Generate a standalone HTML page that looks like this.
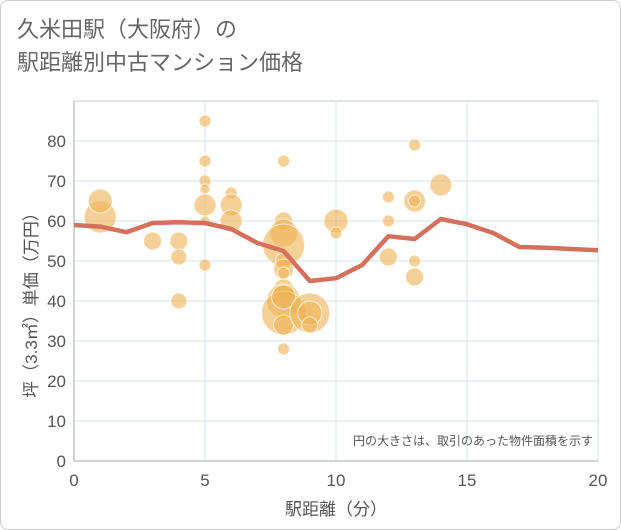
<!DOCTYPE html>
<html><head><meta charset="utf-8"><style>
body{margin:0;background:#fff;}
#wrap{position:relative;width:619px;height:528px;border:1px solid #ccc;border-radius:8px;overflow:hidden;font-family:"Liberation Sans","Noto Sans CJK JP",sans-serif;}
#title{position:absolute;left:16px;top:12px;font-size:22px;line-height:33px;color:#666;}
svg{position:absolute;left:0;top:0;}
</style></head><body>
<div id="wrap">
<div id="title">久米田駅（大阪府）の<br>駅距離別中古マンション価格</div>
<svg id="chart" width="621" height="530"></svg>
</div>
<script>
const xTicks=[0,5,10,15,20];
const yTicks=[0,10,20,30,40,50,60,70,80];
const bubbleX=[1,1,3,4,4,4,5,5,5,5,5,5,5,6,6,6,8,8,8,8,8,8,8,8,8,8,8,8,8,9,9,9,10,10,12,12,12,13,13,13,13,13,14];
const bubbleY=[61,65,55,55,51,40,85,75,70,68,64,60,49,67,64,60,75,60,57,54,50,48,47,43,40,37,34,28,41,37,37,34,60,57,66,60,51,79,65,65,50,46,69];
const bubbleR=[16,12,9,9,8,8,6,6,6,5,11,5,6,6,11,11,6,9,14,21,8,10,6,10,17,22,10,6,12,20,12,8,12,6,6,6,9,6,11,6,6,9,11];
const lineX=[0,1,2,3,4,5,6,7,8,9,10,11,12,13,14,15,16,17,18,19,20];
const lineY=[59,58.6,57.2,59.5,59.7,59.5,58,54.5,52.5,45,45.7,49,56.2,55.5,60.5,59.2,57,53.5,53.3,53,52.7];
const NS='http://www.w3.org/2000/svg';
const svg=document.getElementById('chart');
const X0=73,X1=597,Y0=460,Y1=140;
const sx=v=>X0+(X1-X0)*v/20;
const sy=v=>Y0-(Y0-Y1)*v/80;
function mk(t,a){const e=document.createElementNS(NS,t);for(const k in a)e.setAttribute(k,a[k]);svg.appendChild(e);return e;}
mk('rect',{x:X0,y:100,width:X1-X0,height:Y0-100,fill:'none',stroke:'#ccc'});
yTicks.forEach(v=>{
 const l=mk('line',{x1:X0,x2:X1,y1:sy(v),y2:sy(v),stroke:'#d3e1ee','stroke-width':1});
 
 
 const t=mk('text',{x:X0-8,y:sy(v)+6,'text-anchor':'end','font-size':17,fill:'#555'});
 t.textContent=v;
 
 
});
xTicks.forEach(v=>{
 const l=mk('line',{x1:sx(v),x2:sx(v),y1:100,y2:Y0,stroke:'#d3e1ee','stroke-width':1});
 
 
 const t=mk('text',{x:sx(v),y:485,'text-anchor':'middle','font-size':17,fill:'#555'});
 t.textContent=v;
 
 
});
mk('line',{x1:X0,x2:X0,y1:100,y2:Y0,stroke:'#aaa'});
mk('line',{x1:X0,x2:X1,y1:Y0,y2:Y0,stroke:'#aaa'});
bubbleX.forEach((x,i)=>{
 const c=mk('circle',{cx:sx(x),cy:sy(bubbleY[i]),r:bubbleR[i],fill:'rgba(238,178,82,0.6)',stroke:'rgba(255,255,255,0.7)','stroke-width':1});
 
 
});
const p=mk('polyline',{points:lineX.map((x,i)=>sx(x)+','+sy(lineY[i])).join(' '),fill:'none',stroke:'#d4705c','stroke-width':4.5,'stroke-linejoin':'round'});


const n=mk('text',{x:592,y:444,'text-anchor':'end','font-size':12,fill:'#555'});
n.textContent='円の大きさは、取引のあった物件面積を示す';


const xt=mk('text',{x:335,y:514,'text-anchor':'middle','font-size':17,fill:'#555'});
xt.textContent='駅距離（分）';


const yt=mk('text',{x:0,y:0,'text-anchor':'middle','font-size':17,fill:'#555',transform:'translate(36,300) rotate(-90)'});
yt.textContent='坪（3.3㎡）単価（万円）';


</script>
</body></html>
